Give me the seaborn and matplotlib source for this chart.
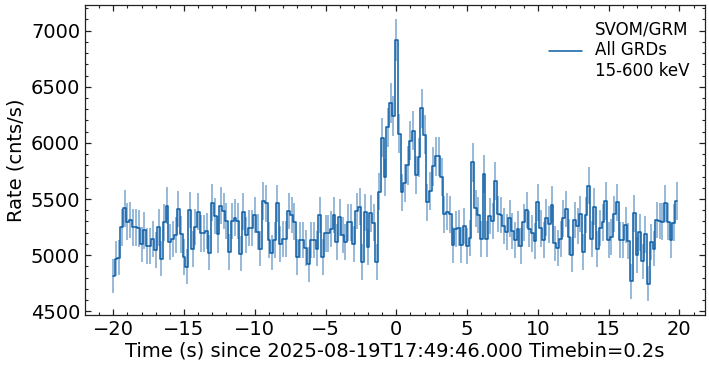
import numpy as np
import pandas as pd
import matplotlib
matplotlib.use("Agg")
import matplotlib.pyplot as plt
import seaborn as sns
from matplotlib.ticker import MultipleLocator

# ---- data (0.2 s bins starting at -20 s) ----
timebin = 0.2
t_start = -20.0

rate_pre = [4814, 4969, 4978, 5247, 5417, 5298, 5313, 5247, 5247, 5238,
            5095, 5220, 5080, 5080, 5142, 5044, 5247, 4969, 5292, 5441,
            5113, 5142, 5178, 5411,
            5184, 4984, 4895, 5402, 5053, 5253, 5387, 5193, 5193, 5214,
            5023, 5468, 5348, 5184, 5438, 5393, 5304, 5029, 5304, 5334,
            5304, 5014, 5387,
            5178, 5244, 5244, 5357, 5208, 5059, 5483, 5462, 5133, 5023,
            5139, 5462, 5098, 5142, 5142, 5393, 5357, 5298, 4984, 5133,
            5133, 5065, 4918, 5133, 5133, 5059,
            5357, 4984, 5193, 5193, 5232, 5357, 5113, 5337, 5178, 5113,
            5292, 5292, 5101, 5393, 5432, 4939, 5381, 5074, 5372, 5289,
            4939]

rate_burst = [5566, 6044, 5692, 6140, 6358, 6238, 6916, 6080, 5560, 5641,
              5799, 6020, 6110, 5710, 5871, 6307, 6074, 5471, 5572, 5790,
              5880]

rate_post = [5880, 5700, 5363, 5387, 5363, 5088, 5231, 5243, 5088, 5261,
             5082, 5154, 5826, 5417, 5357, 5148, 5724, 5148, 5348,
             5304, 5662, 5366, 5357, 5262, 5208, 5328, 5217, 5133, 5232,
             5080, 5292, 5402, 5232, 5193, 5124, 5471, 5238, 5133, 5334,
             5274, 5447, 5104, 5065, 5140,
             5328, 5411, 5163, 5005, 5313, 5262, 5366, 5029, 5357, 5620,
             5142, 5432, 5053, 5244, 5292, 5483, 5133, 5163, 5366, 5471,
             5133, 5133, 5268, 5124, 4766, 5372, 4999, 5202, 4945, 5184,
             4745, 5118, 5059, 5313, 5304, 5298, 5462, 5298, 5139, 5289,
             5483]

legend_label = "SVOM/GRM\nAll GRDs\n15-600 keV"
x_label = "Time (s) since 2025-08-19T17:49:46.000 Timebin=0.2s"
y_label = "Rate (cnts/s)"

# ---- build table ----
rate = np.array(rate_pre + rate_burst + rate_post, dtype=float)
time = t_start + timebin * np.arange(len(rate))
# Poisson uncertainty of a count rate in a 0.2 s bin
rate_err = np.sqrt(rate * timebin) / timebin
df = pd.DataFrame({"time": time, "rate": rate, "err": rate_err})

color = "#0C5DA5"

sns.set_theme(style="ticks")
plt.rcParams["font.family"] = ["DejaVu Sans"]
plt.rcParams.update({
    "axes.linewidth": 0.9,
    "axes.edgecolor": "#222222",
    "axes.labelcolor": "black",
    "text.color": "black",
    "xtick.color": "#222222",
    "ytick.color": "#222222",
    "xtick.labelcolor": "black",
    "ytick.labelcolor": "black",
})

fig, ax = plt.subplots(figsize=(7.09, 3.66), dpi=100)
fig.subplots_adjust(left=0.12, right=0.994, top=0.986, bottom=0.139)

ax.errorbar(df["time"], df["rate"], yerr=df["err"], fmt="none",
            ecolor=color, alpha=0.5, elinewidth=1.2)
sns.lineplot(data=df, x="time", y="rate", drawstyle="steps-mid",
             color=color, linewidth=1.1, estimator=None, ax=ax)

line = ax.lines[0]
ax.legend([line], [legend_label], loc="upper right", frameon=False,
          fontsize=12, handlelength=2.0, labelcolor="black")

ax.set_xlabel(x_label, fontsize=14, labelpad=2, color="black")
ax.set_ylabel(y_label, fontsize=14, labelpad=4, color="black")

ax.xaxis.set_major_locator(MultipleLocator(5))
ax.xaxis.set_minor_locator(MultipleLocator(1))
ax.yaxis.set_major_locator(MultipleLocator(500))
ax.yaxis.set_minor_locator(MultipleLocator(100))
ax.tick_params(which="both", direction="in", top=True, right=True,
               labelsize=14)
ax.tick_params(which="major", length=4.5, width=0.9)
ax.tick_params(which="minor", length=2.3, width=0.8)

fig.savefig("out.png", dpi=100)
